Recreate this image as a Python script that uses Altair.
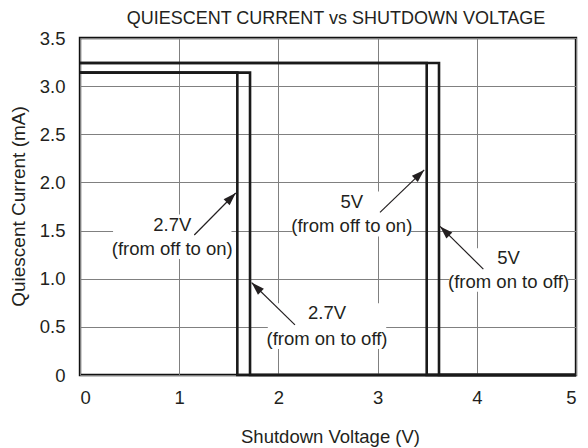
import math
import altair as alt
import pandas as pd

# ---- data ----
x_27_off_on = [0, 1.586, 1.586, 5]
y_27_off_on = [3.14, 3.14, 0, 0]
x_27_on_off = [0, 1.714, 1.714, 5]
y_27_on_off = [3.14, 3.14, 0, 0]
x_5_off_on = [0, 3.495, 3.495, 5]
y_5_off_on = [3.24, 3.24, 0, 0]
x_5_on_off = [0, 3.619, 3.619, 5]
y_5_on_off = [3.24, 3.24, 0, 0]

label_line1 = ["2.7V", "2.7V", "5V", "5V"]
label_line2 = ["(from off to on)", "(from on to off)", "(from off to on)", "(from on to off)"]
label_x = [0.93, 2.49, 2.74, 4.32]
label_y1 = [1.56, 0.64, 1.80, 1.21]
label_y2 = [1.31, 0.375, 1.543, 0.97]

arrow_x0 = [1.152, 2.167, 3.024, 4.066]
arrow_y0 = [1.454, 0.52, 1.689, 1.10]
arrow_x1 = [1.57, 1.73, 3.47, 3.63]
arrow_y1 = [1.89, 0.96, 2.13, 1.543]

x_ticks = [0, 1, 2, 3, 4, 5]
y_ticks = [0, 0.5, 1.0, 1.5, 2.0, 2.5, 3.0, 3.5]

title_text = ["QUIESCENT CURRENT vs SHUTDOWN VOLTAGE"]

W, H = 496, 337
PX_X = W / 5.0
PX_Y = H / 3.5
FONT = "Liberation Sans"
FS = 18.5
INK = "#231f20"

rows = []
for name, xs_, ys_ in [("27a", x_27_off_on, y_27_off_on), ("27b", x_27_on_off, y_27_on_off),
                       ("5a", x_5_off_on, y_5_off_on), ("5b", x_5_on_off, y_5_on_off)]:
    for i, (xv, yv) in enumerate(zip(xs_, ys_)):
        rows.append({"series": name, "order": i, "v": xv, "i": yv})
curves = pd.DataFrame(rows)

labels = pd.DataFrame({
    "t1": label_line1, "t2": label_line2, "x": label_x, "y1": label_y1, "y2": label_y2,
})
# white boxes behind the labels (derived from label text extents)
half_w = (len("(from off to on)") * 0.40 * FS) / 2 / PX_X
labels["bx1"] = labels["x"] - half_w
labels["bx2"] = labels["x"] + half_w
labels["by1"] = labels["y2"] - 0.55 * FS / PX_Y
labels["by2"] = labels["y1"] + 0.55 * FS / PX_Y

arrows = pd.DataFrame({"x0": arrow_x0, "y0": arrow_y0, "x1": arrow_x1, "y1": arrow_y1})
arrows["angle"] = [
    (math.degrees(math.atan2((b - a) * PX_X, (d - c) * PX_Y)) + 360) % 360
    for a, b, c, d in zip(arrows.x0, arrows.x1, arrows.y0, arrows.y1)
]

xs = alt.Scale(domain=[0, 5], nice=False)
ys = alt.Scale(domain=[0, 3.5], nice=False)

xaxis = alt.Axis(values=x_ticks, grid=True, gridColor="#808080", gridWidth=1, domain=False, ticks=False,
                 format="d",
                 labelFont=FONT, labelFontSize=FS, labelColor=INK, labelPadding=13,
                 title="Shutdown Voltage (V)", titleFont=FONT, titleFontSize=FS, titleFontWeight="normal",
                 titleColor=INK, titleX=250, titleY=61, titleBaseline="middle")
yaxis = alt.Axis(values=y_ticks, grid=True, gridColor="#808080", gridWidth=1, domain=False, ticks=False,
                 labelFont=FONT, labelFontSize=FS, labelColor=INK, labelPadding=15,
                 labelExpr="datum.value == 0 ? '0' : format(datum.value, '.1f')",
                 title="Quiescent Current (mA)", titleFont=FONT, titleFontSize=FS + 0.5,
                 titleFontWeight="normal",
                 titleColor=INK, titleX=-62, titleY=168, titleAngle=270, titleBaseline="middle",
                 titleAlign="center")

base_grid = alt.Chart(curves).mark_line(opacity=0).encode(
    x=alt.X("v:Q", scale=xs, axis=xaxis),
    y=alt.Y("i:Q", scale=ys, axis=yaxis),
)

boxes = alt.Chart(labels).mark_rect(color="white").encode(
    x=alt.X("bx1:Q", scale=xs), x2="bx2:Q",
    y=alt.Y("by1:Q", scale=ys), y2="by2:Q",
)

lines = alt.Chart(curves).mark_line(color="#1a1a1a", strokeWidth=2.6, strokeJoin="miter", clip=False).encode(
    x=alt.X("v:Q", scale=xs),
    y=alt.Y("i:Q", scale=ys),
    detail="series:N",
    order="order:Q",
)

arrow_lines = alt.Chart(arrows).mark_rule(color=INK, strokeWidth=1.2).encode(
    x=alt.X("x0:Q", scale=xs), y=alt.Y("y0:Q", scale=ys), x2="x1:Q", y2="y1:Q",
)
heads = alt.Chart(arrows).mark_point(
    shape="M0,0L0.65,2L-0.65,2Z", filled=True, color=INK, size=169, opacity=1, strokeWidth=0
).encode(
    x=alt.X("x1:Q", scale=xs), y=alt.Y("y1:Q", scale=ys), angle=alt.Angle("angle:Q", scale=None),
)

t1 = alt.Chart(labels).mark_text(font=FONT, fontSize=FS, color=INK, baseline="middle").encode(
    x=alt.X("x:Q", scale=xs), y=alt.Y("y1:Q", scale=ys), text="t1:N")
t2 = alt.Chart(labels).mark_text(font=FONT, fontSize=FS, color=INK, baseline="middle").encode(
    x=alt.X("x:Q", scale=xs), y=alt.Y("y2:Q", scale=ys), text="t2:N")

title = alt.Chart(pd.DataFrame({"t": title_text})).mark_text(
    font=FONT, fontSize=18, color=INK, baseline="middle", align="center"
).encode(x=alt.value(256), y=alt.value(-19), text="t:N")

chart = alt.layer(base_grid, boxes, lines, arrow_lines, heads, t1, t2, title).properties(
    width=W, height=H,
    autosize=alt.AutoSizeParams(type="none"),
    padding={"left": 72, "top": 30, "right": 4, "bottom": 72},
).configure_view(stroke="#111111", strokeWidth=2.4)

chart.save("out.html", embed_options={"renderer": "svg", "actions": False})
